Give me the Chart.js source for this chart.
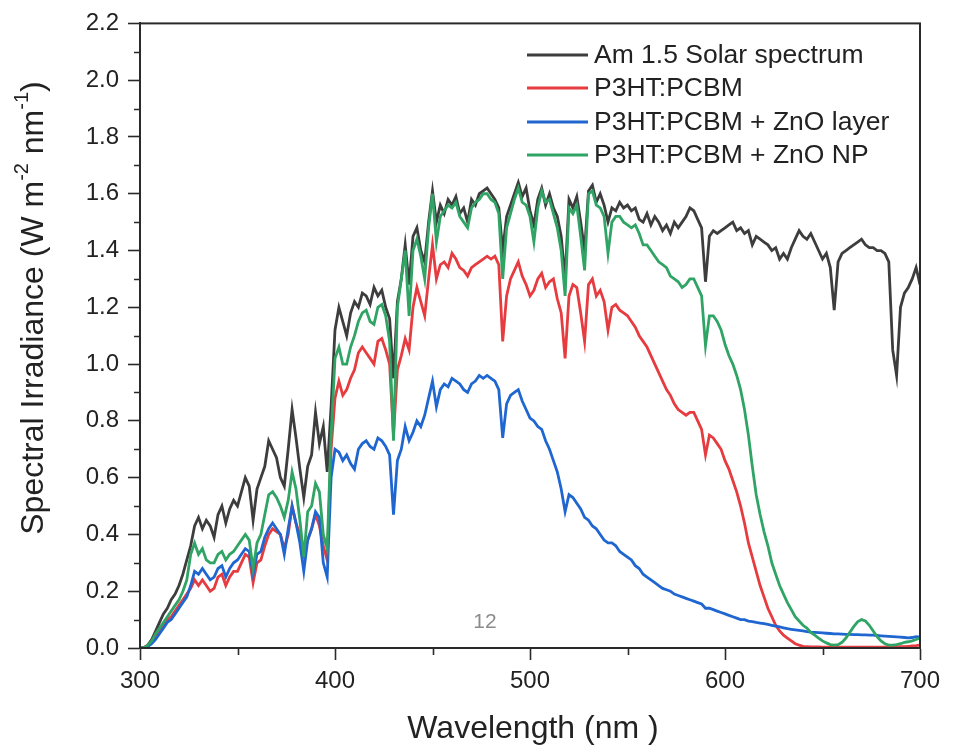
<!DOCTYPE html>
<html>
<head>
<meta charset="utf-8">
<script src="https://cdn.jsdelivr.net/npm/chart.js@4/dist/chart.umd.min.js"></script>
<style>
html,body{margin:0;padding:0;background:#fff;}
#wrap{width:955px;height:747px;}
</style>
</head>
<body>
<div id="wrap"><canvas id="c" width="955" height="747"></canvas></div>
<script>
// Wavelength grid (nm)
const wavelength = [
300,302,304,306,308,310,312,314,316,318,
320,322,324,326,328,330,332,334,336,338,
340,342,344,346,348,350,352,354,356,358,
360,362,364,366,368,370,372,374,376,378,
380,382,384,386,388,390,392,394,396,398,
400,402,404,406,408,410,412,414,416,418,
420,422,424,426,428,430,432,434,436,438,
440,442,444,446,448,450,452,454,456,458,
460,462,464,466,468,470,472,474,476,478,
480,482,484,486,488,490,492,494,496,498,
500,502,504,506,508,510,512,514,516,518,
520,522,524,526,528,530,532,534,536,538,
540,542,544,546,548,550,552,554,556,558,
560,562,564,566,568,570,572,574,576,578,
580,582,584,586,588,590,592,594,596,598,
600,602,604,606,608,610,612,614,616,618,
620,622,624,626,628,630,632,634,636,638,
640,642,644,646,648,650,652,654,656,658,
660,662,664,666,668,670,672,674,676,678,
680,682,684,686,688,690,692,694,696,698,
700];

const am15 = [
0.00,0.00,0.01,0.03,0.06,0.09,0.12,0.14,0.17,0.19,
0.22,0.26,0.31,0.36,0.43,0.46,0.42,0.45,0.43,0.39,
0.47,0.50,0.44,0.49,0.52,0.50,0.55,0.60,0.57,0.45,
0.56,0.60,0.64,0.73,0.70,0.67,0.60,0.57,0.70,0.84,
0.74,0.63,0.53,0.64,0.68,0.83,0.72,0.78,0.62,0.85,
1.12,1.20,1.15,1.10,1.18,1.22,1.20,1.25,1.24,1.21,
1.27,1.24,1.26,1.20,1.16,0.95,1.22,1.30,1.42,1.28,
1.45,1.48,1.40,1.36,1.50,1.61,1.50,1.56,1.53,1.58,
1.56,1.59,1.53,1.55,1.50,1.58,1.56,1.60,1.61,1.62,
1.60,1.58,1.55,1.40,1.52,1.56,1.60,1.64,1.59,1.62,
1.54,1.49,1.58,1.62,1.56,1.60,1.55,1.52,1.45,1.30,
1.58,1.55,1.59,1.50,1.40,1.61,1.63,1.57,1.60,1.56,
1.50,1.55,1.54,1.57,1.55,1.56,1.54,1.55,1.51,1.50,
1.53,1.49,1.52,1.50,1.47,1.49,1.46,1.50,1.48,1.50,
1.52,1.55,1.54,1.51,1.48,1.29,1.45,1.47,1.46,1.47,
1.48,1.49,1.50,1.47,1.48,1.46,1.47,1.42,1.45,1.44,
1.43,1.42,1.40,1.41,1.37,1.39,1.37,1.41,1.44,1.47,
1.45,1.44,1.46,1.43,1.40,1.37,1.39,1.34,1.19,1.36,
1.39,1.40,1.41,1.42,1.43,1.44,1.42,1.41,1.41,1.40,
1.40,1.39,1.36,1.05,0.96,1.20,1.25,1.27,1.30,1.34,
1.28];

const p3ht = [
0.00,0.00,0.01,0.02,0.04,0.06,0.08,0.10,0.11,0.13,
0.15,0.17,0.19,0.21,0.24,0.22,0.24,0.22,0.20,0.21,
0.25,0.26,0.22,0.25,0.27,0.27,0.30,0.33,0.32,0.23,
0.30,0.31,0.36,0.40,0.42,0.41,0.40,0.35,0.40,0.50,
0.44,0.40,0.33,0.38,0.42,0.47,0.43,0.36,0.31,0.70,
0.88,0.94,0.89,0.91,0.95,0.98,1.04,1.06,1.04,1.02,
1.00,1.08,1.09,1.05,1.00,0.75,0.98,1.03,1.09,1.05,
1.20,1.27,1.22,1.17,1.30,1.42,1.30,1.35,1.36,1.34,
1.39,1.37,1.34,1.33,1.31,1.34,1.35,1.36,1.37,1.38,
1.37,1.38,1.35,1.08,1.24,1.30,1.33,1.36,1.31,1.28,
1.24,1.26,1.30,1.32,1.27,1.29,1.30,1.23,1.18,1.02,
1.24,1.28,1.27,1.18,1.08,1.28,1.30,1.24,1.26,1.22,
1.12,1.20,1.21,1.19,1.18,1.17,1.15,1.13,1.10,1.08,
1.06,1.03,1.00,0.97,0.94,0.91,0.89,0.86,0.84,0.83,
0.82,0.83,0.83,0.80,0.77,0.68,0.75,0.74,0.72,0.70,
0.66,0.63,0.59,0.55,0.50,0.44,0.37,0.32,0.27,0.22,
0.18,0.14,0.11,0.08,0.06,0.045,0.035,0.025,0.015,0.01,
0.006,0.005,0.004,0.004,0.004,0.003,0.003,0.003,0.003,0.003,
0.003,0.003,0.003,0.003,0.003,0.003,0.003,0.003,0.003,0.003,
0.003,0.003,0.004,0.004,0.004,0.005,0.005,0.006,0.007,0.008,
0.01];

const znoLayer = [
0.00,0.00,0.005,0.015,0.03,0.05,0.07,0.09,0.10,0.12,
0.14,0.16,0.18,0.22,0.27,0.26,0.28,0.26,0.24,0.25,
0.28,0.29,0.25,0.28,0.30,0.31,0.33,0.35,0.34,0.26,
0.33,0.34,0.39,0.42,0.44,0.42,0.40,0.33,0.42,0.50,
0.44,0.37,0.27,0.38,0.42,0.48,0.46,0.30,0.25,0.60,
0.70,0.69,0.66,0.68,0.65,0.63,0.70,0.72,0.73,0.71,
0.70,0.74,0.73,0.71,0.68,0.47,0.66,0.70,0.78,0.73,
0.76,0.80,0.78,0.82,0.88,0.94,0.85,0.91,0.93,0.92,
0.95,0.94,0.93,0.91,0.90,0.93,0.94,0.96,0.95,0.96,
0.95,0.94,0.91,0.74,0.86,0.89,0.90,0.91,0.87,0.84,
0.81,0.80,0.78,0.77,0.73,0.70,0.66,0.62,0.56,0.48,
0.54,0.53,0.51,0.49,0.46,0.45,0.43,0.42,0.40,0.38,
0.37,0.37,0.36,0.34,0.33,0.32,0.31,0.29,0.28,0.26,
0.25,0.24,0.23,0.22,0.21,0.205,0.20,0.19,0.185,0.18,
0.175,0.17,0.165,0.16,0.155,0.14,0.14,0.135,0.13,0.125,
0.12,0.115,0.11,0.105,0.10,0.10,0.095,0.093,0.09,0.088,
0.086,0.083,0.08,0.077,0.074,0.071,0.068,0.066,0.064,0.062,
0.06,0.058,0.056,0.055,0.054,0.053,0.052,0.051,0.05,0.05,
0.049,0.048,0.048,0.047,0.047,0.046,0.046,0.045,0.045,0.044,
0.043,0.042,0.041,0.04,0.039,0.038,0.037,0.036,0.037,0.04,
0.038];

const znoNP = [
0.00,0.00,0.01,0.025,0.05,0.07,0.09,0.11,0.13,0.15,
0.17,0.20,0.24,0.33,0.37,0.33,0.35,0.31,0.30,0.30,
0.33,0.34,0.31,0.33,0.34,0.36,0.38,0.40,0.38,0.28,
0.37,0.40,0.47,0.54,0.55,0.53,0.50,0.46,0.52,0.62,
0.56,0.45,0.32,0.48,0.50,0.58,0.55,0.40,0.35,0.75,
1.02,1.06,1.00,1.00,1.06,1.10,1.15,1.18,1.19,1.15,
1.14,1.20,1.21,1.17,1.08,0.73,1.20,1.30,1.40,1.17,
1.40,1.44,1.38,1.30,1.48,1.60,1.43,1.52,1.54,1.56,
1.55,1.57,1.52,1.50,1.48,1.55,1.57,1.58,1.60,1.60,
1.58,1.57,1.53,1.30,1.48,1.53,1.58,1.62,1.57,1.56,
1.52,1.43,1.55,1.61,1.57,1.58,1.53,1.48,1.40,1.24,
1.55,1.53,1.56,1.45,1.33,1.60,1.61,1.56,1.55,1.52,
1.39,1.50,1.52,1.52,1.50,1.49,1.48,1.49,1.46,1.42,
1.42,1.40,1.38,1.36,1.35,1.34,1.31,1.30,1.29,1.27,
1.28,1.30,1.30,1.27,1.24,1.065,1.17,1.17,1.15,1.12,
1.07,1.03,1.00,0.96,0.91,0.84,0.75,0.64,0.54,0.47,
0.41,0.36,0.30,0.26,0.22,0.19,0.16,0.135,0.11,0.095,
0.08,0.07,0.055,0.045,0.035,0.025,0.018,0.012,0.01,0.012,
0.02,0.035,0.055,0.075,0.092,0.10,0.095,0.08,0.06,0.04,
0.025,0.015,0.01,0.01,0.012,0.015,0.02,0.022,0.025,0.03,
0.035];

const seriesLabels = ['Am 1.5 Solar spectrum','P3HT:PCBM','P3HT:PCBM + ZnO layer','P3HT:PCBM + ZnO NP'];
const seriesColors = ['#3d3d3d','#e63b3f','#1f66d1','#2fa465'];
const xTicks = [300,400,500,600,700];
const xMinorTicks = [350,450,550,650];
const yTicks = [0.0,0.2,0.4,0.6,0.8,1.0,1.2,1.4,1.6,1.8,2.0,2.2];
const yMinorTicks = [0.1,0.3,0.5,0.7,0.9,1.1,1.3,1.5,1.7,1.9,2.1];

const FONT = '"Liberation Sans", Arial, sans-serif';
const INK = '#222222';

function pts(arr){ return wavelength.map((w,i)=>({x:w,y:arr[i]})); }

const allSeries = [am15, p3ht, znoLayer, znoNP];
const drawOrder = [3,2,1,0];
const datasets = allSeries.map((s,i)=>({
  label: seriesLabels[i],
  data: pts(s),
  borderColor: seriesColors[i],
  backgroundColor: seriesColors[i],
  borderWidth: 2.8,
  pointRadius: 0,
  tension: 0,
  fill: false,
  order: drawOrder[i]
}));

const decor = {
  id: 'decor',
  afterDatasetsDraw(chart){
    const {ctx, chartArea:a, scales:{x, y}} = chart;
    ctx.save();
    // frame
    ctx.strokeStyle = '#2a2a2a';
    ctx.lineWidth = 2;
    ctx.strokeRect(a.left, a.top, a.right - a.left, a.bottom - a.top);
    // minor ticks
    ctx.lineWidth = 1.6;
    ctx.beginPath();
    yMinorTicks.forEach(v=>{ const p = Math.round(y.getPixelForValue(v))+0.5; ctx.moveTo(a.left-6,p); ctx.lineTo(a.left,p); });
    xMinorTicks.forEach(v=>{ const p = Math.round(x.getPixelForValue(v))+0.5; ctx.moveTo(p,a.bottom); ctx.lineTo(p,a.bottom+7); });
    ctx.stroke();

    // legend
    const rows = [55, 88, 122, 155];
    ctx.font = '26.5px ' + FONT;
    ctx.textBaseline = 'middle';
    ctx.textAlign = 'left';
    seriesLabels.forEach((lab,i)=>{
      ctx.strokeStyle = seriesColors[i];
      ctx.lineWidth = 3;
      ctx.beginPath(); ctx.moveTo(527, rows[i]); ctx.lineTo(588, rows[i]); ctx.stroke();
      ctx.fillStyle = INK;
      ctx.fillText(lab, 594, rows[i]+1);
    });

    // page number
    ctx.font = '21px ' + FONT;
    ctx.fillStyle = '#8c8c8c';
    ctx.textAlign = 'center';
    ctx.fillText('12', 485, 622);

    // x title
    ctx.font = '32px ' + FONT;
    ctx.fillStyle = INK;
    ctx.textAlign = 'center';
    ctx.fillText('Wavelength (nm )', 533, 729);

    // y title with superscripts
    const parts = [['Spectral Irradiance (W m',0],['-2',1],[' nm',0],['-1',1],[')',0]];
    const mainF = '32px ' + FONT, supF = '20px ' + FONT;
    let total = 0;
    parts.forEach(p=>{ ctx.font = p[1]?supF:mainF; total += ctx.measureText(p[0]).width; });
    ctx.translate(34, 308);
    ctx.rotate(-Math.PI/2);
    let cx = -total/2;
    ctx.textAlign = 'left';
    parts.forEach(p=>{
      ctx.font = p[1]?supF:mainF;
      ctx.fillText(p[0], cx, p[1] ? -12 : 0);
      cx += ctx.measureText(p[0]).width;
    });
    ctx.restore();
  }
};

new Chart(document.getElementById('c'), {
  type: 'line',
  data: { datasets },
  options: {
    responsive: false,
    devicePixelRatio: 1,
    animation: false,
    layout: { padding: { top: 18, right: 35, left: 0, bottom: 0 } },
    plugins: { legend: { display: false }, tooltip: { enabled: false }, title: { display: false } },
    scales: {
      x: {
        type: 'linear', min: 300, max: 700,
        afterFit(s){ s.height = 99; },
        afterBuildTicks(s){ s.ticks = xTicks.map(v=>({value:v})); },
        grid: { drawOnChartArea: false, drawTicks: true, tickLength: 12, tickWidth: 1.6, tickColor: '#2a2a2a' },
        border: { display: true, color: '#2a2a2a', width: 2 },
        ticks: { font: { family: FONT, size: 24 }, color: INK, padding: 7, maxRotation: 0, callback: v => String(v) }
      },
      y: {
        type: 'linear', min: 0, max: 2.2,
        afterFit(s){ s.width = 140; },
        afterBuildTicks(s){ s.ticks = yTicks.map(v=>({value:v})); },
        grid: { drawOnChartArea: false, drawTicks: true, tickLength: 12, tickWidth: 1.6, tickColor: '#2a2a2a' },
        border: { display: true, color: '#2a2a2a', width: 2 },
        ticks: { font: { family: FONT, size: 24 }, color: INK, padding: 9, callback: v => Number(v).toFixed(1) }
      }
    }
  },
  plugins: [decor]
});
</script>
</body>
</html>
